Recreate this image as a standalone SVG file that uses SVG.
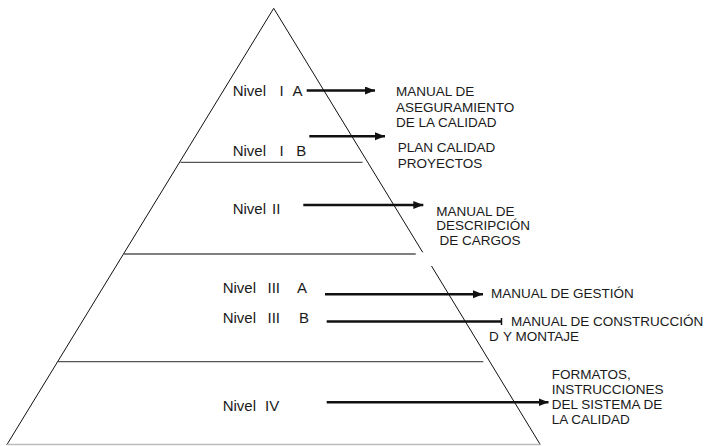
<svg xmlns="http://www.w3.org/2000/svg" width="708" height="446" viewBox="0 0 708 446">
<defs>
<style>
.edge{stroke:#111;stroke-width:1;fill:none}
.band{stroke:#555;stroke-width:1.3;fill:none}
.base{stroke:#bbb;stroke-width:1.3;fill:none}
.lvl{font-family:"Liberation Sans",Arial,sans-serif;font-size:15px;fill:#1a1a1a}
.lbl{font-family:"Liberation Sans",Arial,sans-serif;font-size:13.5px;fill:#1a1a1a}
.arr{stroke:#111;stroke-width:2.6;fill:none}
</style>
<marker id="ah" markerUnits="userSpaceOnUse" markerWidth="12" markerHeight="10" refX="10" refY="4" orient="auto">
<path d="M0,0 L10,4 L0,8 Z" fill="#111"/>
</marker>
</defs>
<rect width="708" height="446" fill="#fff"/>
<g id="pyramid">
<line class="edge" x1="273.7" y1="8.3" x2="6.7" y2="445"/>
<line class="edge" x1="273.7" y1="8.3" x2="422.7" y2="252.3"/>
<line class="edge" x1="431.5" y1="266" x2="540.5" y2="445"/>
<line class="band" x1="180.5" y1="162.3" x2="362.5" y2="162.3"/>
<line class="band" x1="124" y1="254" x2="415.7" y2="254"/>
<line class="band" x1="57.8" y1="361.7" x2="483.3" y2="361.7"/>
<line class="base" x1="6.7" y1="444.5" x2="541" y2="444.5"/>
</g>
<g id="nivel-1a"><text class="lvl" y="95.5"><tspan x="232.7">Nivel</tspan><tspan x="279.5">I</tspan><tspan x="292.5">A</tspan></text></g>
<g id="nivel-1b"><text class="lvl" y="156.3"><tspan x="232.7">Nivel</tspan><tspan x="279.5">I</tspan><tspan x="296.3">B</tspan></text></g>
<g id="nivel-2"><text class="lvl" y="214"><tspan x="232.7">Nivel</tspan><tspan x="272">II</tspan></text></g>
<g id="nivel-3a"><text class="lvl" y="292.8"><tspan x="222.7">Nivel</tspan><tspan x="267.5">III</tspan><tspan x="297">A</tspan></text></g>
<g id="nivel-3b"><text class="lvl" y="322.5"><tspan x="222.7">Nivel</tspan><tspan x="267.5">III</tspan><tspan x="299">B</tspan></text></g>
<g id="nivel-4"><text class="lvl" y="411.3"><tspan x="222.7">Nivel</tspan><tspan x="265">IV</tspan></text></g>
<g id="manual-aseguramiento"><text class="lbl"><tspan x="396" y="96">MANUAL DE</tspan><tspan x="396" y="111.5">ASEGURAMIENTO</tspan><tspan x="396" y="126.8">DE LA CALIDAD</tspan></text></g>
<g id="plan-calidad"><text class="lbl"><tspan x="397.8" y="152.3">PLAN CALIDAD</tspan><tspan x="397.8" y="167.5">PROYECTOS</tspan></text></g>
<g id="manual-cargos"><text class="lbl"><tspan x="436.2" y="216">MANUAL DE</tspan><tspan x="436.2" y="230.2">DESCRIPCIÓN</tspan><tspan x="439.5" y="244.5">DE CARGOS</tspan></text></g>
<g id="manual-gestion"><text class="lbl" x="491" y="297.5">MANUAL DE GESTIÓN</text></g>
<g id="manual-construccion"><text class="lbl"><tspan x="511" y="325.8">MANUAL DE CONSTRUCCIÓN</tspan><tspan x="489" y="341.2">D</tspan><tspan x="503" y="341.2">Y  MONTAJE</tspan></text></g>
<g id="formatos"><text class="lbl"><tspan x="551.8" y="378.5">FORMATOS,</tspan><tspan x="551.8" y="393.7">INSTRUCCIONES</tspan><tspan x="551.8" y="409">DEL SISTEMA DE</tspan><tspan x="551.8" y="424.3">LA CALIDAD</tspan></text></g>
<g id="connectors">
<line class="arr" x1="306.7" y1="90.5" x2="375" y2="90.5" marker-end="url(#ah)"/>
<line class="arr" x1="309.3" y1="136.3" x2="385" y2="136.3" marker-end="url(#ah)"/>
<line class="arr" x1="303.3" y1="205" x2="423.3" y2="205" marker-end="url(#ah)"/>
<line class="arr" x1="325" y1="294.3" x2="483" y2="294.3" marker-end="url(#ah)"/>
<line class="arr" x1="326.7" y1="321.5" x2="501" y2="321.5"/>
<line stroke="#111" stroke-width="1.5" x1="501.5" y1="318" x2="501.5" y2="325"/>
<line class="arr" x1="326.7" y1="402.3" x2="548.5" y2="402.3" marker-end="url(#ah)"/>
</g>
</svg>
